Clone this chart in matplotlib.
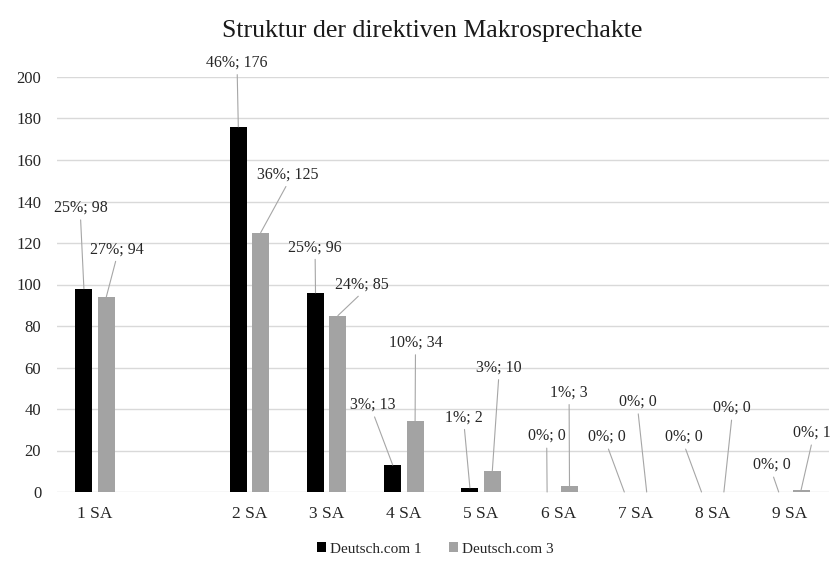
import numpy as np
import matplotlib
matplotlib.use("Agg")
import matplotlib.pyplot as plt

# categories (the empty one is a blank row in the source chart, it leaves a gap)
categories = ["1 SA", "", "2 SA", "3 SA", "4 SA", "5 SA", "6 SA", "7 SA", "8 SA", "9 SA"]

# counts and shares (None = blank row)
dc1_values = [98, None, 176, 96, 13, 2, 0, 0, 0, 0]
dc1_pct = [25, None, 46, 25, 3, 1, 0, 0, 0, 0]
dc3_values = [94, None, 125, 85, 34, 10, 3, 0, 0, 1]
dc3_pct = [27, None, 36, 24, 10, 3, 1, 0, 0, 0]

series_names = ["Deutsch.com 1", "Deutsch.com 3"]

# where the data labels sit (x offset from category centre, y in data units)
dc1_label_pos = [(-0.19, 137), None, (-0.16, 207), (-0.15, 118), (-0.40, 42),
                 (-0.22, 36), (-0.15, 27), (-0.37, 26.5), (-0.37, 26.5), (-0.23, 13)]
dc3_label_pos = [(0.28, 117), None, (0.50, 153), (0.46, 100), (0.15, 72),
                 (0.23, 60), (0.14, 48), (0.03, 43.5), (0.25, 40.5), (0.29, 28.5)]

plt.rcParams["font.family"] = ["Liberation Serif", "DejaVu Serif"]

fig = plt.figure(figsize=(8.35, 5.75), dpi=100)
ax = fig.add_axes([56.5 / 835, 83 / 575, 772 / 835, 415 / 575])

x = np.arange(len(categories))
BAR_W = 0.22
OFFSET = 0.145
colors = ["#000000", "#a3a3a3"]

series = [
    (dc1_values, dc1_pct, dc1_label_pos, -OFFSET, colors[0]),
    (dc3_values, dc3_pct, dc3_label_pos, OFFSET, colors[1]),
]

for (vals, pcts, lpos, off, col), name in zip(series, series_names):
    heights = np.array([np.nan if v is None else v for v in vals], dtype=float)
    ax.bar(x + off, heights, width=BAR_W, color=col, zorder=2, label=name)
    for i, v in enumerate(vals):
        if v is None:
            continue
        dx, ly = lpos[i]
        ax.annotate(
            "%d%%; %d" % (pcts[i], v),
            xy=(x[i] + off, v),
            xytext=(x[i] + dx, ly),
            ha="center",
            va="center",
            fontsize=11.5,
            color="#262626",
            annotation_clip=False,
            arrowprops=dict(arrowstyle="-", color="#a6a6a6", lw=0.8,
                            shrinkA=1, shrinkB=0, relpos=(0.5, 0.0)),
            zorder=3,
        )

ax.set_xlim(-0.5, len(categories) - 0.5)
ax.set_ylim(0, 200)
ax.set_yticks(np.arange(0, 201, 20))
ax.set_xticks([i for i, c in enumerate(categories) if c])
ax.set_xticklabels([c for c in categories if c])
ax.tick_params(axis="both", length=0, colors="#262626")
ax.tick_params(axis="y", pad=11, labelsize=12)
ax.tick_params(axis="x", pad=10, labelsize=12.5)
ax.yaxis.grid(True, color="#d9d9d9", lw=1.0, zorder=0)
ax.set_axisbelow(True)
for s in ax.spines.values():
    s.set_visible(False)

fig.text(432 / 835, 1 - 31 / 575, "Struktur der direktiven Makrosprechakte",
         ha="center", va="center", fontsize=18.5, color="#1a1a1a")

fig.legend(
    loc="center",
    bbox_to_anchor=(435 / 835, 1 - 549 / 575),
    ncol=2,
    frameon=False,
    fontsize=11,
    handlelength=0.6,
    handleheight=0.6,
    handletextpad=0.25,
    columnspacing=1.8,
    labelcolor="#262626",
)

fig.savefig("out.png", dpi=100, facecolor="white")
